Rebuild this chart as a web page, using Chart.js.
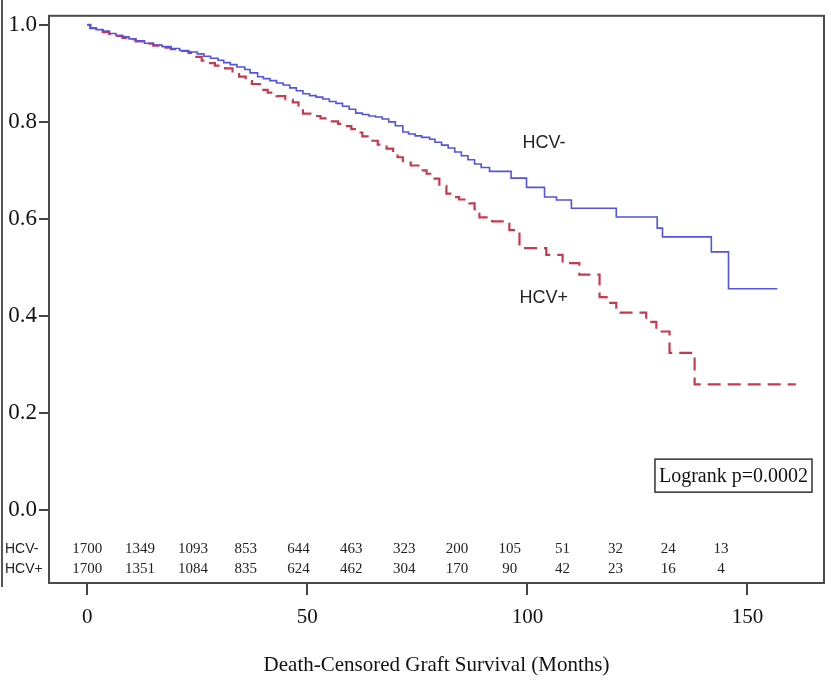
<!DOCTYPE html>
<html>
<head>
<meta charset="utf-8">
<script src="https://cdn.jsdelivr.net/npm/chart.js@4.4.1/dist/chart.umd.min.js"></script>
<style>
  html, body { margin: 0; padding: 0; background: #fff; }
  #wrap { width: 831px; height: 684px; }
</style>
</head>
<body>
<div id="wrap"><canvas id="kmChart" width="831" height="684"></canvas></div>
<script>
// Kaplan-Meier curves (months, survival)
const hcvNegTimes = [0, 0.7, 2, 3.5, 5, 6.5, 8, 9.5, 11, 13, 15, 17, 19, 21, 23, 25, 26.5, 28, 29.7, 31, 32.5, 34, 35.8, 37, 38.7, 40, 41.5, 43, 44.5, 46, 47.5, 49, 50.5, 52, 53.5, 55, 56.5, 58, 59.5, 61, 62.5, 64, 65.5, 67, 68.5, 70, 71.7, 73, 74.5, 76, 77.8, 79, 80.5, 82, 83.5, 85, 86.5, 88, 89.5, 91.4, 96.3, 99.8, 103.9, 106.6, 110, 120.2, 129.5, 130.7, 141.8, 145.7, 156.8];
const hcvNegSurv  = [1.0, 0.993, 0.99, 0.987, 0.982, 0.978, 0.975, 0.971, 0.967, 0.962, 0.958, 0.955, 0.951, 0.947, 0.944, 0.94, 0.935, 0.931, 0.927, 0.922, 0.918, 0.913, 0.908, 0.901, 0.893, 0.889, 0.885, 0.88, 0.876, 0.87, 0.864, 0.858, 0.854, 0.851, 0.847, 0.842, 0.838, 0.832, 0.826, 0.818, 0.815, 0.812, 0.81, 0.806, 0.8, 0.792, 0.779, 0.775, 0.771, 0.768, 0.764, 0.758, 0.752, 0.746, 0.738, 0.73, 0.722, 0.713, 0.706, 0.698, 0.684, 0.665, 0.645, 0.639, 0.622, 0.604, 0.581, 0.563, 0.532, 0.456, 0.456];

const hcvPosTimes = [0, 0.7, 2, 3.5, 5, 6.5, 8, 9.5, 11, 13, 15, 17, 19, 21, 23, 24.5, 26, 27.5, 29, 31.3, 33, 34.5, 36, 37.4, 39.2, 41, 43, 45, 46.7, 48, 49, 51, 53, 55, 57, 58.5, 60, 61.2, 62.5, 64.2, 66, 68, 69.5, 70.5, 71.7, 73.5, 75.5, 77.1, 78.5, 80, 81.6, 83, 84.5, 86.8, 88, 89.1, 92, 95.9, 98.2, 104.3, 108, 111.8, 116.4, 118, 120.2, 127, 129.3, 132.3, 138, 161];
const hcvPosSurv  = [1.0, 0.993, 0.989, 0.985, 0.981, 0.977, 0.973, 0.97, 0.966, 0.961, 0.957, 0.953, 0.95, 0.946, 0.942, 0.934, 0.926, 0.921, 0.916, 0.91, 0.901, 0.893, 0.884, 0.878, 0.866, 0.86, 0.853, 0.846, 0.84, 0.83, 0.817, 0.812, 0.807, 0.801, 0.796, 0.791, 0.785, 0.778, 0.77, 0.761, 0.753, 0.745, 0.735, 0.727, 0.716, 0.71, 0.7, 0.693, 0.683, 0.668, 0.652, 0.645, 0.64, 0.632, 0.62, 0.603, 0.595, 0.577, 0.54, 0.526, 0.509, 0.485, 0.439, 0.427, 0.407, 0.388, 0.368, 0.324, 0.259, 0.259];

// numbers at risk
const riskTimes = [0, 12, 24, 36, 48, 60, 72, 84, 96, 108, 120, 132, 144];
const riskNeg = [1700, 1349, 1093, 853, 644, 463, 323, 200, 105, 51, 32, 24, 13];
const riskPos = [1700, 1351, 1084, 835, 624, 462, 304, 170, 90, 42, 23, 16, 4];

const xTicks = [0, 50, 100, 150];
const yTicks = [0, 0.2, 0.4, 0.6, 0.8, 1.0];

const serif = '"Liberation Serif", "Times New Roman", serif';
const sans = '"Liberation Sans", Arial, sans-serif';

function toPoints(times, surv) {
  return times.map((t, i) => ({ x: t, y: surv[i] }));
}

// frame, at-risk table and text annotations
const kmExtras = {
  id: 'kmExtras',
  afterDraw(chart) {
    const { ctx, chartArea: a, scales: { x, y } } = chart;
    ctx.save();

    // left edge line of the cropped figure
    ctx.strokeStyle = '#555';
    ctx.lineWidth = 2;
    ctx.beginPath();
    ctx.moveTo(2, 0);
    ctx.lineTo(2, 587);
    ctx.stroke();

    // plot frame
    ctx.strokeStyle = '#4a4a4a';
    ctx.lineWidth = 2;
    ctx.strokeRect(a.left, a.top, a.right - a.left, a.bottom - a.top);

    // number at risk
    ctx.fillStyle = '#222';
    ctx.textBaseline = 'middle';
    const row1 = y.getPixelForValue(-0.08);
    const row2 = y.getPixelForValue(-0.121);
    ctx.font = '14px ' + sans;
    ctx.textAlign = 'left';
    ctx.fillText('HCV-', 5, row1);
    ctx.fillText('HCV+', 5, row2);
    ctx.font = '15px ' + serif;
    ctx.textAlign = 'center';
    riskTimes.forEach((t, i) => {
      const px = x.getPixelForValue(t);
      ctx.fillText(String(riskNeg[i]), px, row1);
      ctx.fillText(String(riskPos[i]), px, row2);
    });

    // curve labels
    ctx.font = '18px ' + sans;
    ctx.fillStyle = '#222';
    ctx.fillText('HCV-', x.getPixelForValue(103.8), y.getPixelForValue(0.757));
    ctx.fillText('HCV+', x.getPixelForValue(103.7), y.getPixelForValue(0.438));

    // logrank box
    ctx.font = '20px ' + serif;
    const label = 'Logrank p=0.0002';
    const w = ctx.measureText(label).width + 8;
    const right = a.right - 12;
    const top = y.getPixelForValue(0.105);
    const h = 33;
    ctx.strokeStyle = '#333';
    ctx.lineWidth = 1.5;
    ctx.strokeRect(right - w, top, w, h);
    ctx.fillStyle = '#111';
    ctx.fillText(label, right - w / 2, top + h / 2 + 1);

    ctx.restore();
  }
};

new Chart(document.getElementById('kmChart'), {
  type: 'line',
  data: {
    datasets: [
      {
        label: 'HCV-',
        data: toPoints(hcvNegTimes, hcvNegSurv),
        borderColor: '#5353dd',
        borderWidth: 1.6,
        stepped: 'before',
        pointRadius: 0,
        fill: false
      },
      {
        label: 'HCV+',
        data: toPoints(hcvPosTimes, hcvPosSurv),
        borderColor: '#c53a4f',
        borderWidth: 2.2,
        borderDash: [13, 7],
        stepped: 'before',
        pointRadius: 0,
        fill: false
      }
    ]
  },
  options: {
    responsive: false,
    animation: false,
    layout: { padding: { top: 15, right: 7, bottom: 0, left: 0 } },
    plugins: {
      legend: { display: false },
      tooltip: { enabled: false }
    },
    scales: {
      x: {
        type: 'linear',
        min: -8.7,
        max: 167.4,
        afterBuildTicks: s => { s.ticks = xTicks.map(v => ({ value: v })); },
        afterFit: s => { s.height = 101; },
        grid: { display: true, drawOnChartArea: false, drawTicks: true, tickLength: 12, color: '#444', lineWidth: 2 },
        border: { display: false },
        ticks: { font: { family: serif, size: 21 }, color: '#111', padding: 10, maxRotation: 0 },
        title: {
          display: true,
          text: 'Death-Censored Graft Survival (Months)',
          font: { family: serif, size: 21 },
          color: '#111',
          padding: { top: 6, bottom: 6 }
        }
      },
      y: {
        type: 'linear',
        min: -0.1502,
        max: 1.0185,
        afterBuildTicks: s => { s.ticks = yTicks.map(v => ({ value: v })); },
        afterFit: s => { s.width = 49; },
        grid: { display: true, drawOnChartArea: false, drawTicks: true, tickLength: 10, color: '#444', lineWidth: 2 },
        border: { display: false },
        ticks: { font: { family: serif, size: 23 }, color: '#111', padding: 2, callback: v => v.toFixed(1) }
      }
    }
  },
  plugins: [kmExtras]
});
</script>
</body>
</html>
